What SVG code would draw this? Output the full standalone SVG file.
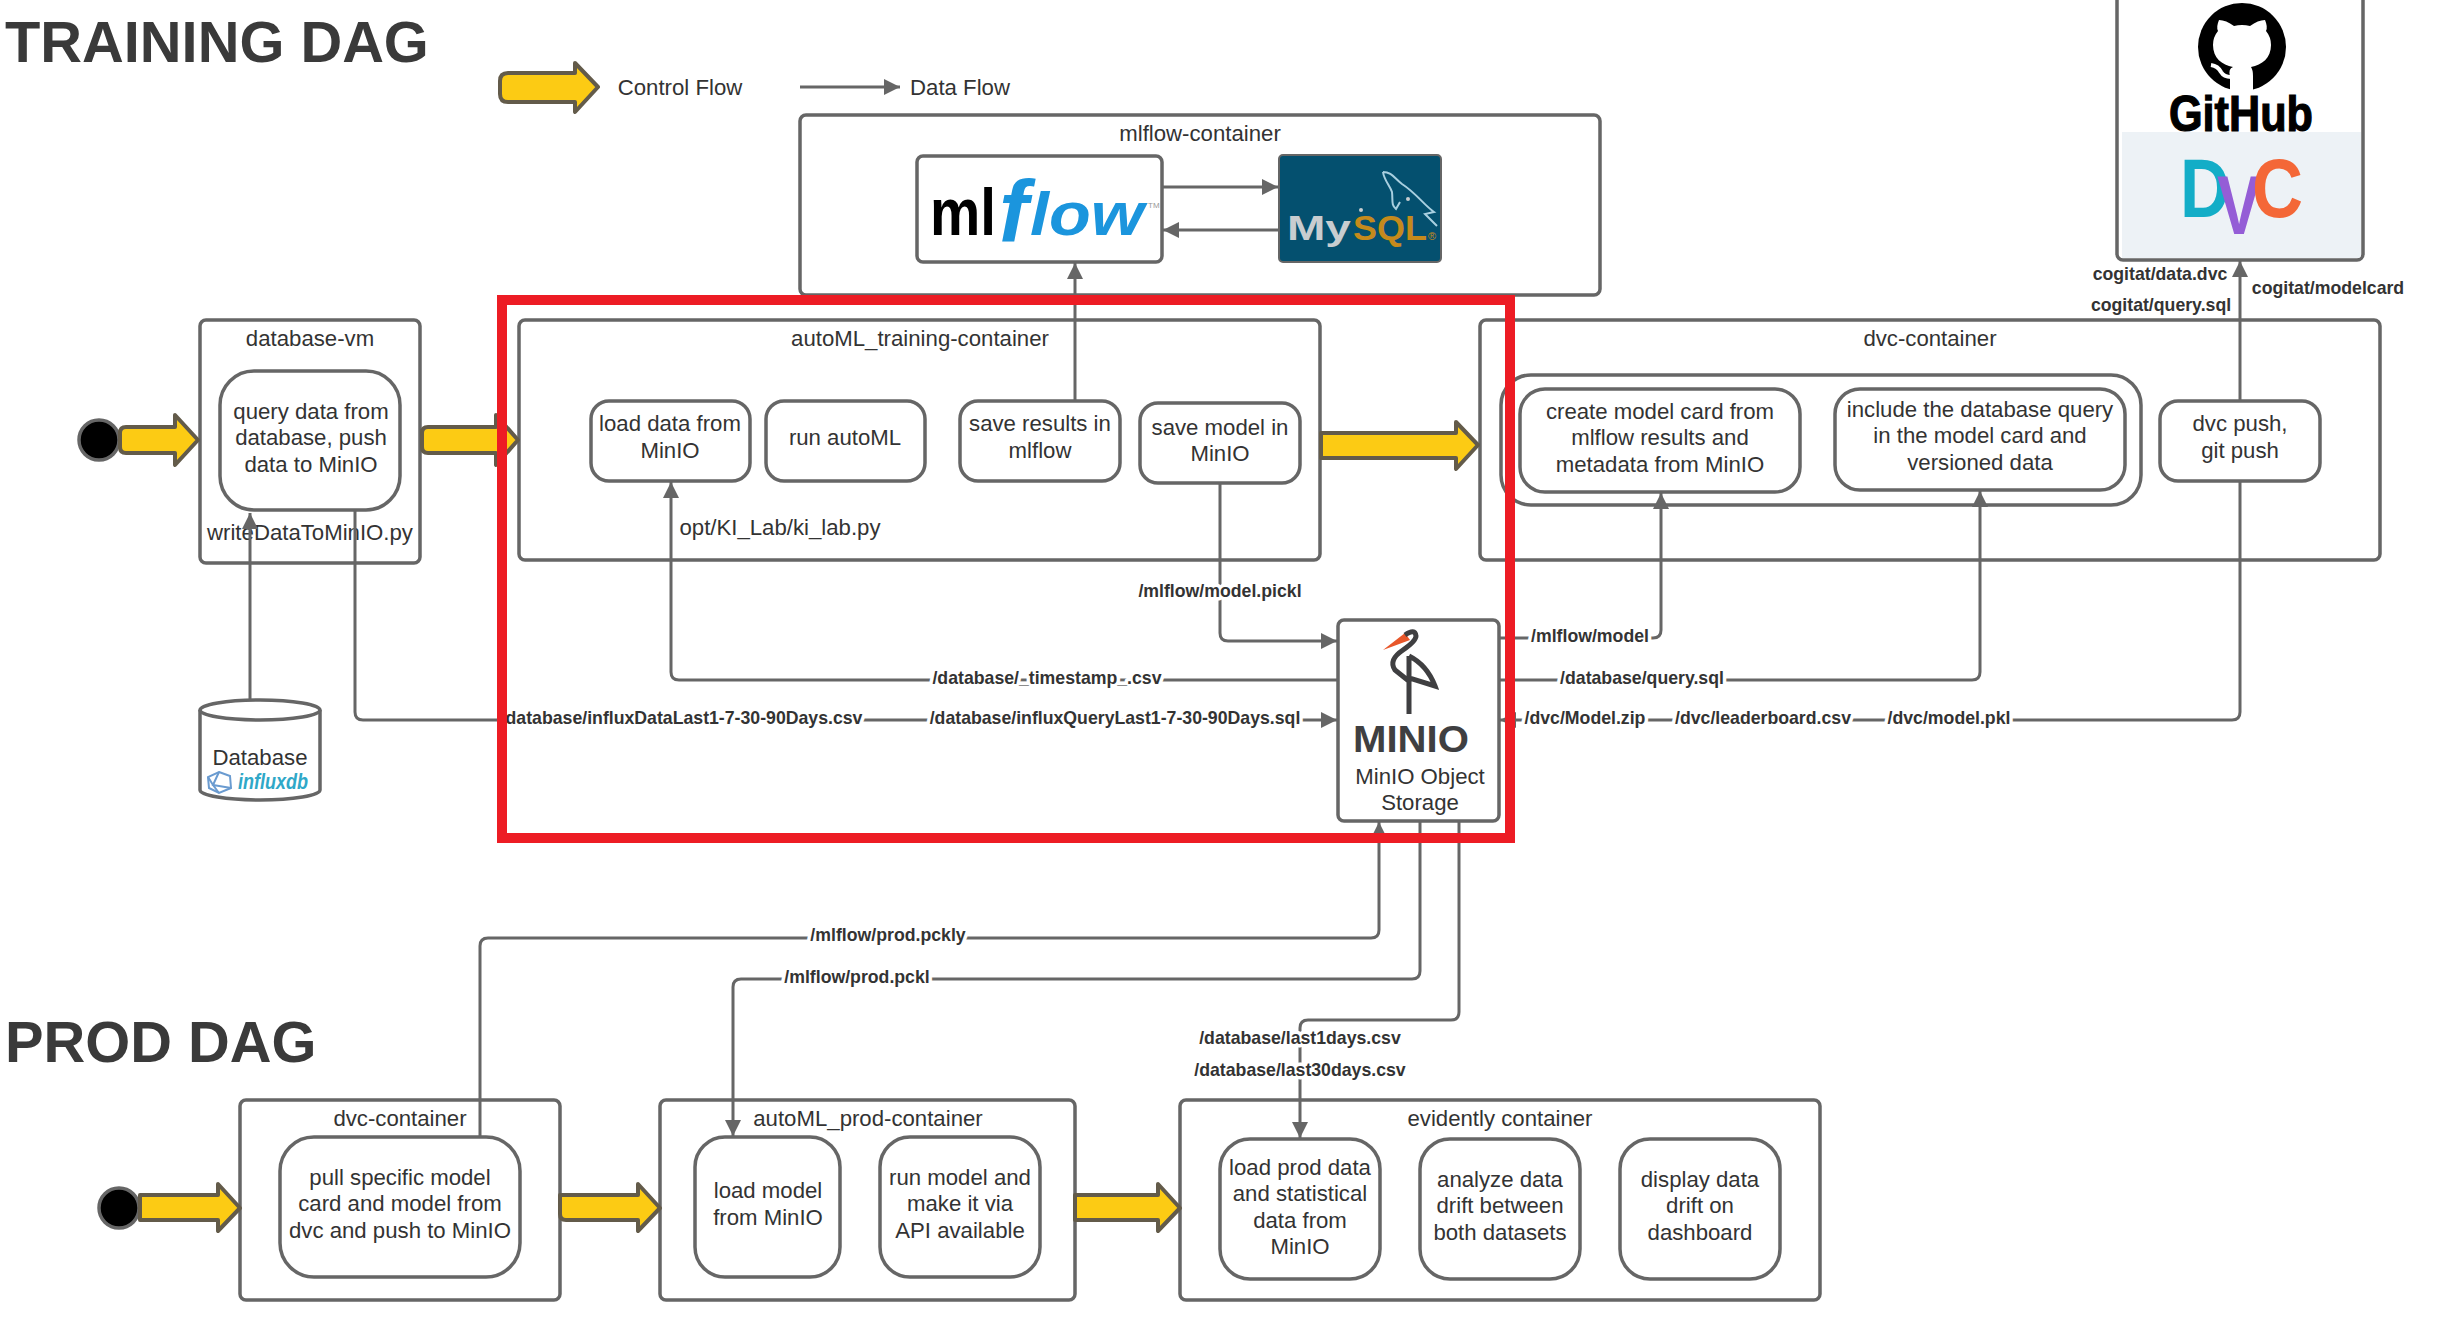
<svg xmlns="http://www.w3.org/2000/svg" width="2450" height="1322" viewBox="0 0 2450 1322">
<style>
text{font-family:"Liberation Sans",Arial,sans-serif;fill:#333;text-anchor:middle}
.s{text-anchor:start}
.box{fill:#fff;stroke:#666;stroke-width:3.5}
.t{font-size:22.2px}
.h{font-size:57.8px;font-weight:700;text-anchor:start;fill:#3a3a3a}
.l{font-size:17.7px;font-weight:700;paint-order:stroke;stroke:#fff;stroke-width:7px;stroke-linejoin:round}
.b{font-size:17.7px;font-weight:700}
.y{fill:#fccb14;stroke:#635b4a;stroke-width:4;stroke-linejoin:round}
.e{fill:none;stroke:#666;stroke-width:3;stroke-linejoin:round}
.a{marker-end:url(#ah)}
</style>
<defs>
<marker id="ah" markerUnits="userSpaceOnUse" markerWidth="18" markerHeight="16" refX="16" refY="8" orient="auto"><path d="M0 0L16 8L0 16Z" fill="#666"/></marker>
</defs>
<rect width="2450" height="1322" fill="#fff"/>
<text class="h" x="5" y="62">TRAINING DAG</text>
<text class="h" x="5" y="1062">PROD DAG</text>
<g id="legend">
<path class="y" d="M508 73H575V63L598 87L575 112V102H508Q500 102 500 94V81Q500 73 508 73Z"/>
<text class="t" x="680" y="95">Control Flow</text>
<path class="e a" d="M800 87H900"/>
<text class="t" x="960" y="95">Data Flow</text>
</g>
<g id="start-training"><circle cx="99" cy="440" r="20" fill="#000" stroke="#666" stroke-width="3.5"/></g>
<g id="start-prod"><circle cx="119" cy="1208" r="20" fill="#000" stroke="#666" stroke-width="3.5"/></g>
<g id="database-vm"><rect class="box" x="200" y="320" width="220" height="243" rx="6"/>
<text class="t" x="310" y="346">database-vm</text>
<rect class="box" x="220" y="371" width="180" height="139" rx="34"/>
<text class="t" x="311" y="419">query data from</text><text class="t" x="311" y="445">database, push</text><text class="t" x="311" y="472">data to MinIO</text>
<text class="t" x="310" y="540">writeDataToMinIO.py</text></g>
<g id="database"><path class="box" d="M200 710A60 10 0 0 1 320 710V790A60 10 0 0 1 200 790Z"/><path class="e" style="stroke-width:3.5" d="M200 710A60 10 0 0 0 320 710"/>
<text class="t" x="260" y="765">Database</text>
<g fill="none" stroke="#6a9bd0" stroke-width="2"><path d="M219 772L230 776L231 788L219 793L209 788L208 777Z"/><path d="M219 772L213 785L231 788M208 777L213 785L219 793"/></g>
<text class="s" x="238" y="789" style="font-size:22px;font-weight:700;font-style:italic;fill:#2fa8c8" textLength="70" lengthAdjust="spacingAndGlyphs">influxdb</text></g>
<g id="automl-training"><rect class="box" x="519" y="320" width="801" height="240" rx="6"/>
<text class="t" x="920" y="346">autoML_training-container</text>
<text class="t" x="780" y="535">opt/KI_Lab/ki_lab.py</text></g>
<g id="load-data"><rect class="box" x="591" y="401" width="159" height="80" rx="18"/><text class="t" x="670" y="431">load data from</text><text class="t" x="670" y="458">MinIO</text></g>
<g id="run-automl"><rect class="box" x="766" y="401" width="159" height="80" rx="18"/><text class="t" x="845" y="445">run autoML</text></g>
<g id="save-results"><rect class="box" x="960" y="401" width="160" height="80" rx="18"/><text class="t" x="1040" y="431">save results in</text><text class="t" x="1040" y="458">mlflow</text></g>
<g id="save-model"><rect class="box" x="1140" y="403" width="160" height="80" rx="18"/><text class="t" x="1220" y="435">save model in</text><text class="t" x="1220" y="461">MinIO</text></g>
<g id="mlflow-container"><rect class="box" x="800" y="115" width="800" height="180" rx="6"/>
<text class="t" x="1200" y="141">mlflow-container</text></g>
<g id="mlflow"><rect class="box" x="917" y="156" width="245" height="106" rx="6"/>
<text class="s" x="930" y="235" style="font-size:66px;font-weight:700;fill:#000" textLength="66" lengthAdjust="spacingAndGlyphs">ml</text>
<text class="s" x="999" y="241" style="font-size:88px;font-style:italic;font-weight:700;fill:#1b95dd">f</text>
<text class="s" x="1030" y="235" style="font-size:62px;font-style:italic;font-weight:700;fill:#1b95dd" textLength="114" lengthAdjust="spacingAndGlyphs">low</text>
<text class="s" x="1148" y="208" style="font-size:8px;fill:#999">TM</text></g>
<g id="mysql"><rect x="1279" y="155" width="162" height="107" rx="4" fill="#04506f" stroke="#666" stroke-width="2"/>
<text class="s" x="1287" y="240" style="font-size:35px;font-weight:700;fill:#c8cdd0" textLength="64" lengthAdjust="spacingAndGlyphs">My</text><text class="s" x="1353" y="240" style="font-size:35px;font-weight:700;fill:#c58a1c" textLength="74" lengthAdjust="spacingAndGlyphs">SQL</text>
<text class="s" x="1428" y="240" style="font-size:11px;fill:#c58a1c">®</text>
<circle cx="1361" cy="210" r="2" fill="#c8cdd0"/><circle cx="1408" cy="199" r="2" fill="#c8cdd0"/>
<path d="M1383 172C1392 172 1394 178 1402 184C1416 193 1424 205 1434 212L1425 214L1437 226M1383 172C1384 180 1390 186 1392 192C1393 201 1391 205 1396 209L1400 202" fill="none" stroke="#a8cfe0" stroke-width="2"/></g>
<g id="github-dvc"><rect class="box" x="2117" y="-6" width="246" height="266" rx="6"/>
<path d="M2122 132H2361V255Q2361 258 2358 258H2122Z" fill="#edf2f6"/>
<circle cx="2242" cy="47" r="44" fill="#000"/>
<path fill="#fff" d="M2219 20Q2226 20 2234 26Q2242 24 2250 26Q2258 20 2265 20Q2268 27 2266 31Q2271 37 2271 45C2271 58 2262 65 2251 67Q2253 70 2253 76V92H2230V76Q2228 69 2233 67C2222 65 2213 58 2213 45Q2213 37 2218 31Q2216 27 2219 20Z"/>
<path d="M2211 65Q2218 66 2221 72Q2224 77 2231 77" fill="none" stroke="#fff" stroke-width="4"/>
<text class="s" x="2169" y="131" style="font-size:50px;font-weight:700;fill:#000;stroke:#000;stroke-width:1.2" textLength="144" lengthAdjust="spacingAndGlyphs">GitHub</text>
<text class="s" x="2180" y="217" style="font-size:83px;font-weight:700;fill:#13adc7" textLength="50" lengthAdjust="spacingAndGlyphs">D</text><text class="s" x="2217" y="234" style="font-size:83px;font-weight:700;fill:#945dd6" textLength="44" lengthAdjust="spacingAndGlyphs">V</text><text class="s" x="2252" y="217" style="font-size:83px;font-weight:700;fill:#f46737" textLength="51" lengthAdjust="spacingAndGlyphs">C</text></g>
<g id="dvc-container"><rect class="box" x="1480" y="320" width="900" height="240" rx="6"/>
<text class="t" x="1930" y="346">dvc-container</text>
<rect class="box" x="1501" y="375" width="640" height="130" rx="30"/></g>
<g id="model-card"><rect class="box" x="1520" y="389" width="280" height="103" rx="25"/><text class="t" x="1660" y="419">create model card from</text><text class="t" x="1660" y="445">mlflow results and</text><text class="t" x="1660" y="472">metadata from MinIO</text></g>
<g id="include-query"><rect class="box" x="1835" y="389" width="290" height="101" rx="25"/><text class="t" x="1980" y="417">include the database query</text><text class="t" x="1980" y="443">in the model card and</text><text class="t" x="1980" y="470">versioned data</text></g>
<g id="dvc-push"><rect class="box" x="2160" y="401" width="160" height="80" rx="18"/><text class="t" x="2240" y="431">dvc push,</text><text class="t" x="2240" y="458">git push</text></g>
<g id="minio"><rect class="box" x="1338" y="620" width="161" height="201" rx="6"/>
<path d="M1405 633L1383 650L1410 640Z" fill="#e8572a"/>
<path d="M1405 635Q1415 628 1416 636Q1416 641 1403 650Q1388 660 1395 670L1410 682M1409 680V714M1409 656Q1427 665 1435 686L1409 678V656" fill="none" stroke="#3f3f41" stroke-width="5"/>
<text class="s" x="1353" y="752" style="font-size:37px;font-weight:700;fill:#3f3f41" textLength="116" lengthAdjust="spacingAndGlyphs">MINIO</text>
<text class="t" x="1420" y="784">MinIO Object</text><text class="t" x="1420" y="810">Storage</text></g>
<g id="dvc-prod"><rect class="box" x="240" y="1100" width="320" height="200" rx="6"/><text class="t" x="400" y="1126">dvc-container</text>
<rect class="box" x="280" y="1137" width="240" height="140" rx="34"/><text class="t" x="400" y="1185">pull specific model</text><text class="t" x="400" y="1211">card and model from</text><text class="t" x="400" y="1238">dvc and push to MinIO</text></g>
<g id="automl-prod"><rect class="box" x="660" y="1100" width="415" height="200" rx="6"/><text class="t" x="868" y="1126">autoML_prod-container</text></g>
<g id="load-model"><rect class="box" x="695" y="1137" width="145" height="140" rx="30"/><text class="t" x="768" y="1198">load model</text><text class="t" x="768" y="1225">from MinIO</text></g>
<g id="run-model"><rect class="box" x="880" y="1137" width="160" height="140" rx="30"/><text class="t" x="960" y="1185">run model and</text><text class="t" x="960" y="1211">make it via</text><text class="t" x="960" y="1238">API available</text></g>
<g id="evidently"><rect class="box" x="1180" y="1100" width="640" height="200" rx="6"/><text class="t" x="1500" y="1126">evidently container</text></g>
<g id="load-prod"><rect class="box" x="1220" y="1139" width="160" height="140" rx="30"/><text class="t" x="1300" y="1175">load prod data</text><text class="t" x="1300" y="1201">and statistical</text><text class="t" x="1300" y="1228">data from</text><text class="t" x="1300" y="1254">MinIO</text></g>
<g id="analyze"><rect class="box" x="1420" y="1139" width="160" height="140" rx="30"/><text class="t" x="1500" y="1187">analyze data</text><text class="t" x="1500" y="1213">drift between</text><text class="t" x="1500" y="1240">both datasets</text></g>
<g id="display"><rect class="box" x="1620" y="1139" width="160" height="140" rx="30"/><text class="t" x="1700" y="1187">display data</text><text class="t" x="1700" y="1213">drift on</text><text class="t" x="1700" y="1240">dashboard</text></g>
<g id="connectors">
<path class="y" d="M126 427H175V415L198 440L175 465V453H126Q120 453 120 447V433Q120 427 126 427Z"/>
<path class="y" d="M428 427H496V415L518 440L496 465V453H428Q422 453 422 447V433Q422 427 428 427Z"/>
<path class="y" d="M1321 433H1456V422L1478 445L1456 469V458H1321Z"/>
<path class="y" d="M140 1195H218V1184L240 1208L218 1231V1220H140Z"/>
<path class="y" d="M560 1195H638V1184L660 1208L638 1231V1220H566Q560 1220 560 1214Z"/>
<path class="y" d="M1075 1195H1158V1184L1180 1208L1158 1231V1220H1075Z"/>
<path class="e a" d="M250 700V513"/>
<path class="e a" d="M355 510V712Q355 720 363 720H1337"/>
<path class="e a" d="M1338 680H679Q671 680 671 672V482"/>
<path class="e a" d="M1220 483V633Q1220 641 1228 641H1337"/>
<path class="e a" d="M1075 400V263"/>
<path class="e a" d="M1162 187H1278"/>
<path class="e a" d="M1279 230H1163"/>
<path class="e a" d="M1499 638H1653Q1661 638 1661 630V493"/>
<path class="e a" d="M1499 680H1972Q1980 680 1980 672V491"/>
<path class="e a" d="M2240 481V712Q2240 720 2232 720H1500"/>
<path class="e a" d="M2240 400V261"/>
<path class="e a" d="M480 1137V946Q480 938 488 938H1371Q1379 938 1379 930V822"/>
<path class="e a" d="M1420 821V971Q1420 979 1412 979H741Q733 979 733 987V1136"/>
<path class="e a" d="M1459 821V1012Q1459 1020 1451 1020H1308Q1300 1020 1300 1028V1138"/>
</g>
<g id="labels">
<text class="l" x="684" y="724">database/influxDataLast1-7-30-90Days.csv</text>
<text class="l" x="1115" y="724">/database/influxQueryLast1-7-30-90Days.sql</text>
<text class="l" x="1047" y="684">/database/_timestamp_.csv</text>
<text class="l" x="1220" y="597">/mlflow/model.pickl</text>
<text class="l" x="1590" y="642">/mlflow/model</text>
<text class="l" x="1642" y="684">/database/query.sql</text>
<text class="l" x="1585" y="724">/dvc/Model.zip</text>
<text class="l" x="1763" y="724">/dvc/leaderboard.csv</text>
<text class="l" x="1949" y="724">/dvc/model.pkl</text>
<text class="l" x="888" y="941">/mlflow/prod.pckly</text>
<text class="l" x="857" y="983">/mlflow/prod.pckl</text>
<text class="l" x="1300" y="1044">/database/last1days.csv</text>
<text class="l" x="1300" y="1076">/database/last30days.csv</text>
<text class="b" x="2160" y="280">cogitat/data.dvc</text>
<text class="b" x="2161" y="311">cogitat/query.sql</text>
<text class="b" x="2328" y="294">cogitat/modelcard</text>
</g>
<rect id="highlight" x="502" y="300" width="1008" height="538" fill="none" stroke="#ed1c24" stroke-width="10"/>
</svg>
